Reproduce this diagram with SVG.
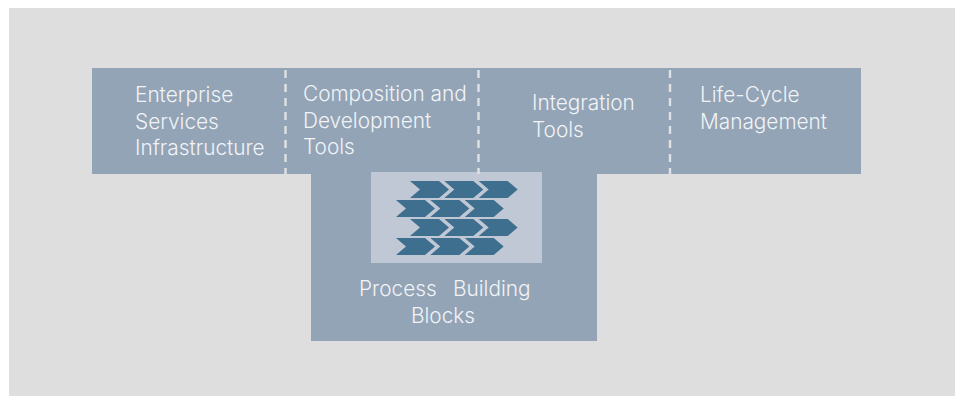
<svg xmlns="http://www.w3.org/2000/svg" width="961" height="396" viewBox="0 0 961 396">
<style>
.b{fill:#93a4b6}
.t{font-family:"Inter","Liberation Sans",Arial,sans-serif;font-size:20.800px;fill:#f1f3f6;font-weight:300}
.d{stroke:#dfe1e4;stroke-width:2.400;stroke-dasharray:8 6;fill:none}
.c{fill:#3f6f8e}
</style>
<defs><path id="ch" d="M0 0H29L39 8.500L29 17H0L10 8.500Z"/></defs>
<rect width="961" height="396" fill="#fff"/>
<rect x="9" y="8" width="946" height="388" fill="#dedede"/>
<g id="node-enterprise"><rect class="b" x="92" y="68" width="194" height="106"/>
<text class="t"><tspan x="135" y="102">Enterprise</tspan><tspan x="135" y="129">Services</tspan><tspan x="135" y="155">Infrastructure</tspan></text></g>
<g id="node-composition"><rect class="b" x="286" y="68" width="193" height="106"/>
<text class="t"><tspan x="303" y="101">Composition and</tspan><tspan x="303" y="128">Development</tspan><tspan x="303" y="154">Tools</tspan></text></g>
<g id="node-integration"><rect class="b" x="479" y="68" width="191" height="106"/>
<text class="t"><tspan x="532" y="110">Integration</tspan><tspan x="532" y="137">Tools</tspan></text></g>
<g id="node-lifecycle"><rect class="b" x="670" y="68" width="191" height="106"/>
<text class="t"><tspan x="700" y="102">Life-Cycle</tspan><tspan x="700" y="129">Management</tspan></text></g>
<g id="node-process"><rect class="b" x="311" y="174" width="286" height="167"/>
<rect x="371" y="172" width="171" height="91" fill="#c0c8d5"/>
<g class="c">
<use href="#ch" x="410" y="181"/><use href="#ch" x="444.300" y="181"/><use href="#ch" x="478.700" y="181"/>
<use href="#ch" x="396" y="200"/><use href="#ch" x="430.300" y="200"/><use href="#ch" x="464.700" y="200"/>
<use href="#ch" x="410" y="219"/><use href="#ch" x="444.300" y="219"/><use href="#ch" x="478.700" y="219"/>
<use href="#ch" x="396" y="238"/><use href="#ch" x="430.300" y="238"/><use href="#ch" x="464.700" y="238"/>
</g>
<text class="t"><tspan x="359" y="296">Process</tspan><tspan x="453" y="296">Building</tspan><tspan x="411" y="323">Blocks</tspan></text></g>
<g id="connectors">
<path class="d" d="M285.500 70V174"/><path class="d" d="M478.500 70V174"/><path class="d" d="M670 70V174"/>
</g>
</svg>
